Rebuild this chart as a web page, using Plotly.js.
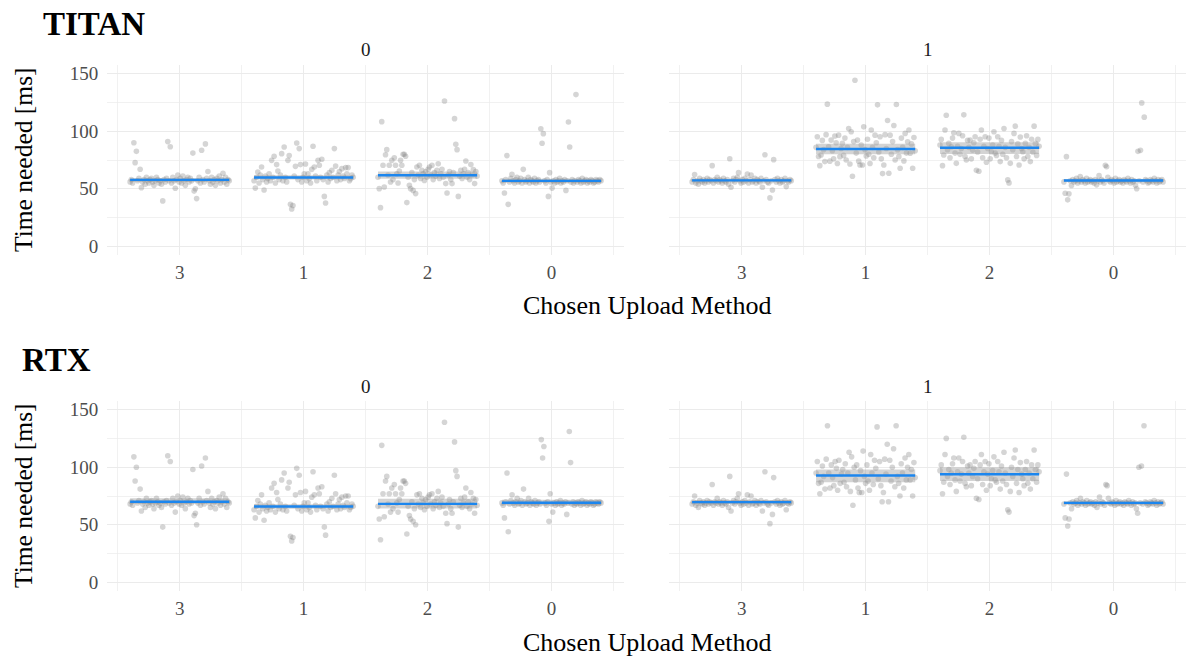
<!DOCTYPE html>
<html>
<head>
<meta charset="utf-8">
<script src="https://cdn.plot.ly/plotly-3.0.1.min.js"></script>
<style>html,body{margin:0;padding:0;background:#fff;}#chart{width:1186px;height:658px;}</style>
</head>
<body>
<div id="chart"></div>
<script>
// ---------- data ----------
const categories = ['3', '1', '2', '0'];       // x order within each facet
const facetLabels = ['0', '1'];
const rowTitles = ['TITAN', 'RTX'];
const yTickVals = [0, 50, 100, 150];

// TITAN, facet 0 (points listed left to right within each category)
const titan_f0_c3 = [56,58,55,90,72.7,82.5,57,59,67,51,56,58,54,60,57,55,58,59,56,53,57,60,58,55,57,54,39.5,58,56,59,91,57,86.5,55,60,57,50.5,58,62,56,59,55,61,57,53,58,60,56,59,57,81,48,50,41.5,57,60,55,83.5,58,56,89,59,65,57,54,60,56,58,53,59,57,61,55,58,63.5,56,60,54,58,57];
const titan_f0_c1 = [57,50.6,60,64.5,55,62,68.9,58,48.9,61,56,59,63.1,57,74.7,60,78.2,55,71,65.4,58,62,80.5,57,86.3,60,56,74.7,78.8,36.5,32.4,35.5,61,69.5,89.7,58,84.9,71,56,60,63,71.5,57,63.1,59,55,66.9,86.9,68.9,61,57,74.7,70.4,60,75.6,58,43.4,37.6,62,56,64,59,66,60,84.9,69.7,57,62,65,58,67.5,61,59,68.4,63,68.4,57,58.8,62,60];
const titan_f0_c2 = [60,50.1,33.6,108.3,70.4,51.5,79.6,84,62,70.4,55.9,74.7,58,77,70.4,63,55,65.4,74.7,70.4,79.9,79.9,78.2,38,60,53,50.1,64,48.6,58,45.8,68.9,62,70.4,59,66,63,57.3,65,60,67,68.9,62,70.4,58,64,61,66,71.8,59,63,67,60,126.2,54.5,46.3,62,65,58,54.5,64,110.9,88.6,84,43.4,61,66,59,63,67,74.1,60,64,58,71,62,66.6,54.5,65,61];
const titan_f0_c0 = [57,55,46.3,58,78.8,36.5,56,59,62.5,57,55,58,60,56,57,59,55,66.9,58,56,57,60,55,58,57,56,59,55,57,58,56,102.2,89.5,97.9,57,55,58,43.4,64,56,50.6,57,55,58,56,57,59,55,57,56,58,48.6,57,108,86.3,56,58,55,57,131.8,56,58,57,55,59,56,57,58,55,57,56,58,57,55,56,58,57,56,58,57];
// TITAN, facet 1
const titan_f1_c3 = [56,58,62.3,55,57,54,59,57,56,58,55,57,59,56,58,57,70.1,55,58,57,60,56,58,57,55,59,57,56,58,54,76.1,51.3,57,59,56,58,60,64,57,55,58,56,59,57,62.9,55,58,62,56,57,59,55,58,57,56,59,51.3,57,79.6,58,56,55,42.1,57,49,75.3,58,56,59,57,55,58,56,57,59,51.9,57,56,58,57];
const titan_f1_c1 = [86,95.2,78,70.1,79.3,92,84,73.6,97,123.5,86.5,74,92.3,83,76,95.8,90,72,96.6,77.9,85,89.4,79,94,75,86,102.4,71.5,99.5,60.9,91,144.2,81,92.3,74,70.7,88,70.7,103.8,84,78.5,93,80,72,101,86,77,96.6,90,122.9,82,95.2,76,63.2,70.7,97,85,109.3,63.5,96.6,80,91,105,75,123.2,84,77.9,67.8,94,86,74.2,98.1,81,90.9,101,80.8,89,67.8,94.6,83];
const titan_f1_c2 = [88,92.9,70.1,79.3,101,113.9,84,89.4,77,86.5,94,98.6,81,72.1,87,98.1,79.9,85,96,114.2,78,75,92,86,92.3,76,83.6,90,95.2,66,82,65.2,93,101,77,87,95.2,73,85,94,76,82.2,88,99.5,81,79,95.2,87,73.6,92,80,102.4,86,77,57.7,55.1,72.1,91,84,98.1,104.4,78,89,70.7,95,85,82.2,76,89.4,96,78,86,73.6,93,82,104.4,89.4,79,92.9,87];
const titan_f1_c0 = [56,46.1,77.9,40.4,45.6,57,52.8,58,56,57,59,55,57,60.6,56,58,57,55,59,56,57,58,56,57,55,58,53.4,57,61.4,56,58,57,55,70.4,69.2,60,57,56,58,57,55,59,56,57,58,56,57,55,58,57,56,59,57,55,58,56,57,53.1,50,82.5,57,83.4,124.6,56,112.2,58,57,55,56,58,57,56,59,57,55,58,56,57,58,56];
// RTX, facet 0
const rtx_f0_c3 = [68,70,67,109,88,100,69,71,81,62,68,70,65,73,69,67,70,71,68,64,69,73,70,67,69,65,48,70,68,71,110,69,105,67,73,69,61,70,75,68,71,67,74,69,64,70,73,68,71,69,98,58,60,50,69,73,67,101,70,68,108,71,79,69,65,73,68,70,64,71,69,74,67,70,77,68,73,65,70,69];
const rtx_f0_c1 = [63,56,66,71,61,68,76,64,54,67,62,65,69,63,82,66,86,61,78,72,64,68,89,63,95,66,62,82,87,40,36,39,67,76,99,64,93,78,62,66,69,79,63,69,65,61,74,96,76,67,63,82,77,66,83,64,48,41,68,62,70,65,73,66,93,77,63,68,72,64,74,67,65,75,69,75,63,65,68,66];
const rtx_f0_c2 = [66,55,37,119,77,57,88,92,68,77,61,82,64,85,77,69,61,72,82,77,88,88,86,42,66,58,55,70,53,64,50,76,68,77,65,73,69,63,72,66,74,76,68,77,64,70,67,73,79,65,69,74,66,139,60,51,68,72,64,60,70,122,97,92,48,67,73,65,69,74,82,66,70,64,78,68,73,60,72,67];
const rtx_f0_c0 = [69,67,56,70,95,44,68,71,76,69,67,70,73,68,69,71,67,81,70,68,69,73,67,70,69,68,71,67,69,70,68,124,108,118,69,67,70,53,77,68,61,69,67,70,68,69,71,67,69,68,70,59,69,131,104,68,70,67,69,68,70,69,67,71,68,69,70,67,69,68,70,69,67,68,70,69,68,70,69];
// RTX, facet 1
const rtx_f1_c3 = [68,70,75,67,69,65,71,69,68,70,67,69,71,68,70,69,85,67,70,69,73,68,70,69,67,71,69,68,70,65,92,62,69,71,68,70,73,77,69,67,70,68,71,69,76,67,70,75,68,69,71,67,70,69,68,71,62,69,96,70,68,67,51,69,59,91,70,68,71,69,67,70,68,69,71,63,69,68,70,69];
const rtx_f1_c1 = [95,105,86,77,87,101,92,81,107,136,95,82,102,91,84,105,99,80,106,86,94,98,87,103,83,95,113,79,109,67,100,89,102,82,78,97,78,114,92,86,102,88,80,111,95,85,106,99,135,90,105,84,70,78,107,94,120,70,106,88,100,116,83,136,92,86,75,103,95,82,108,89,100,111,89,98,75,104,91];
const rtx_f1_c2 = [97,102,77,87,111,125,92,98,85,95,103,108,89,79,96,108,88,94,105,126,86,83,101,95,102,84,92,99,105,73,90,72,102,111,85,96,105,80,94,103,84,90,97,109,89,87,105,96,81,101,88,113,95,85,63,61,79,100,92,108,115,86,98,78,104,94,90,84,98,105,86,95,81,102,90,115,98,87,102,96];
const rtx_f1_c0 = [68,56,94,49,55,69,64,70,68,69,71,67,69,73,68,70,69,67,71,68,69,70,68,69,67,70,65,69,74,68,70,69,67,85,84,73,69,68,70,69,67,71,68,69,70,68,69,67,70,69,68,71,69,67,70,68,69,64,60,100,69,101,68,136,70,69,67,68,70,69,68,71,69,67,70,68,69,70,68];

// summary: mean and confidence band per category (order 3,1,2,0)
const titan_f0_mean = [57.7, 59.8, 61.8, 56.9];
const titan_f0_lo   = [56.0, 58.0, 58.8, 55.3];
const titan_f0_hi   = [59.4, 61.7, 65.0, 58.7];
const titan_f1_mean = [57.3, 84.5, 85.7, 57.2];
const titan_f1_lo   = [56.2, 80.0, 80.2, 56.0];
const titan_f1_hi   = [58.4, 89.2, 90.5, 58.4];
const rtx_f0_mean   = [70.0, 65.9, 68.2, 69.2];
const rtx_f0_lo     = [68.0, 63.9, 64.2, 66.8];
const rtx_f0_hi     = [73.0, 67.9, 72.6, 71.8];
const rtx_f1_mean   = [69.7, 92.8, 93.9, 69.0];
const rtx_f1_lo     = [68.0, 87.0, 88.0, 67.5];
const rtx_f1_hi     = [71.5, 98.0, 100.0, 70.5];

// ---------- build ----------
const panels = [
  {pts: [titan_f0_c3, titan_f0_c1, titan_f0_c2, titan_f0_c0], mean: titan_f0_mean, lo: titan_f0_lo, hi: titan_f0_hi, xa: 'x',  ya: 'y'},
  {pts: [titan_f1_c3, titan_f1_c1, titan_f1_c2, titan_f1_c0], mean: titan_f1_mean, lo: titan_f1_lo, hi: titan_f1_hi, xa: 'x2', ya: 'y2'},
  {pts: [rtx_f0_c3, rtx_f0_c1, rtx_f0_c2, rtx_f0_c0], mean: rtx_f0_mean, lo: rtx_f0_lo, hi: rtx_f0_hi, xa: 'x3', ya: 'y3'},
  {pts: [rtx_f1_c3, rtx_f1_c1, rtx_f1_c2, rtx_f1_c0], mean: rtx_f1_mean, lo: rtx_f1_lo, hi: rtx_f1_hi, xa: 'x4', ya: 'y4'}
];

const HALF = 0.4; // jitter / crossbar half-width in category units
const traces = [];
panels.forEach(p => {
  const px = [], py = [];
  p.pts.forEach((vals, ci) => {
    const n = vals.length;
    vals.forEach((v, i) => {
      px.push((ci + 1) - HALF + 2 * HALF * i / (n - 1));
      py.push(v);
    });
  });
  traces.push({type: 'scatter', mode: 'markers', x: px, y: py, xaxis: p.xa, yaxis: p.ya,
    marker: {size: 5.6, color: 'rgba(127,127,127,0.33)', line: {width: 0}}, hoverinfo: 'skip'});
  const bx = [], by = [], lx = [], ly = [];
  categories.forEach((c, ci) => {
    const c0 = ci + 1 - HALF, c1 = ci + 1 + HALF;
    bx.push(c0, c1, c1, c0, c0, null);
    by.push(p.lo[ci], p.lo[ci], p.hi[ci], p.hi[ci], p.lo[ci], null);
    lx.push(c0, c1, null);
    ly.push(p.mean[ci], p.mean[ci], null);
  });
  traces.push({type: 'scatter', mode: 'lines', x: bx, y: by, xaxis: p.xa, yaxis: p.ya,
    fill: 'toself', fillcolor: 'rgba(160,160,160,0.45)', line: {width: 0}, hoverinfo: 'skip'});
  traces.push({type: 'scatter', mode: 'lines', x: lx, y: ly, xaxis: p.xa, yaxis: p.ya,
    line: {color: '#1c86ee', width: 2.4}, hoverinfo: 'skip'});
});

const W = 1186, H = 658;
const FONT = 'Liberation Serif';
const GRID = '#ebebeb';
const tickFont = {family: FONT, size: 19, color: '#4d4d4d'};
const xdom = [[107.3 / W, 624 / W], [669.3 / W, 1]];
const ydom = [[1 - 255 / H, 1 - 65 / H], [1 - 591 / H, 1 - 401 / H]];

function xAxis(dom, anchor) {
  return {domain: dom, anchor: anchor, range: [0.416, 4.585], tickmode: 'array',
    tickvals: [1, 2, 3, 4], ticktext: categories, showgrid: true, gridcolor: GRID, gridwidth: 1.1,
    zeroline: false, showline: false, ticks: '', tickfont: tickFont, ticklabelstandoff: 4,
    minor: {tickmode: 'array', tickvals: [0.5, 1.5, 2.5, 3.5, 4.5], showgrid: true, gridcolor: GRID, gridwidth: 0.7, ticks: ''},
    fixedrange: true};
}
function yAxis(dom, anchor, labels) {
  return {domain: dom, anchor: anchor, range: [-7.5, 157.5], tickmode: 'array',
    tickvals: yTickVals, ticktext: yTickVals.map(String), showticklabels: labels,
    showgrid: true, gridcolor: GRID, gridwidth: 1.1, zeroline: false, showline: false, ticks: '',
    tickfont: tickFont, ticklabelstandoff: 8,
    minor: {tickmode: 'array', tickvals: [25, 75, 125], showgrid: true, gridcolor: GRID, gridwidth: 0.7, ticks: ''},
    fixedrange: true};
}

const ann = [];
const py = v => 1 - v / H, pxf = v => v / W;
// row titles
ann.push({text: '<b>' + rowTitles[0] + '</b>', x: pxf(41), y: py(24), xanchor: 'left', yanchor: 'middle', font: {family: FONT, size: 33, color: '#000'}});
ann.push({text: '<b>' + rowTitles[1] + '</b>', x: pxf(20), y: py(360), xanchor: 'left', yanchor: 'middle', font: {family: FONT, size: 33, color: '#000'}});
const rowOffsets = [0, 336];
rowOffsets.forEach(off => {
  // facet strip labels
  ann.push({text: facetLabels[0], x: pxf((107.3 + 624) / 2), y: py(50 + off), xanchor: 'center', yanchor: 'middle', font: {family: FONT, size: 19, color: '#1a1a1a'}});
  ann.push({text: facetLabels[1], x: pxf((669.3 + 1186) / 2), y: py(50 + off), xanchor: 'center', yanchor: 'middle', font: {family: FONT, size: 19, color: '#1a1a1a'}});
  // axis titles
  ann.push({text: 'Chosen Upload Method', x: pxf((107.3 + 1186) / 2), y: py(306 + off), xanchor: 'center', yanchor: 'middle', font: {family: FONT, size: 26, color: '#000'}});
  ann.push({text: 'Time needed [ms]', textangle: -90, x: pxf(23), y: py(160 + off), xanchor: 'center', yanchor: 'middle', font: {family: FONT, size: 25.5, color: '#000'}});
});
ann.forEach(a => { a.xref = 'paper'; a.yref = 'paper'; a.showarrow = false; });

const layout = {
  width: W, height: H, margin: {l: 0, r: 0, t: 0, b: 0, pad: 0},
  paper_bgcolor: '#fff', plot_bgcolor: '#fff', showlegend: false,
  font: {family: FONT},
  xaxis: xAxis(xdom[0], 'y'), xaxis2: xAxis(xdom[1], 'y2'),
  xaxis3: xAxis(xdom[0], 'y3'), xaxis4: xAxis(xdom[1], 'y4'),
  yaxis: yAxis(ydom[0], 'x', true), yaxis2: yAxis(ydom[0], 'x2', false),
  yaxis3: yAxis(ydom[1], 'x3', true), yaxis4: yAxis(ydom[1], 'x4', false),
  annotations: ann
};

Plotly.newPlot('chart', traces, layout, {staticPlot: true, displayModeBar: false});
</script>
</body>
</html>
